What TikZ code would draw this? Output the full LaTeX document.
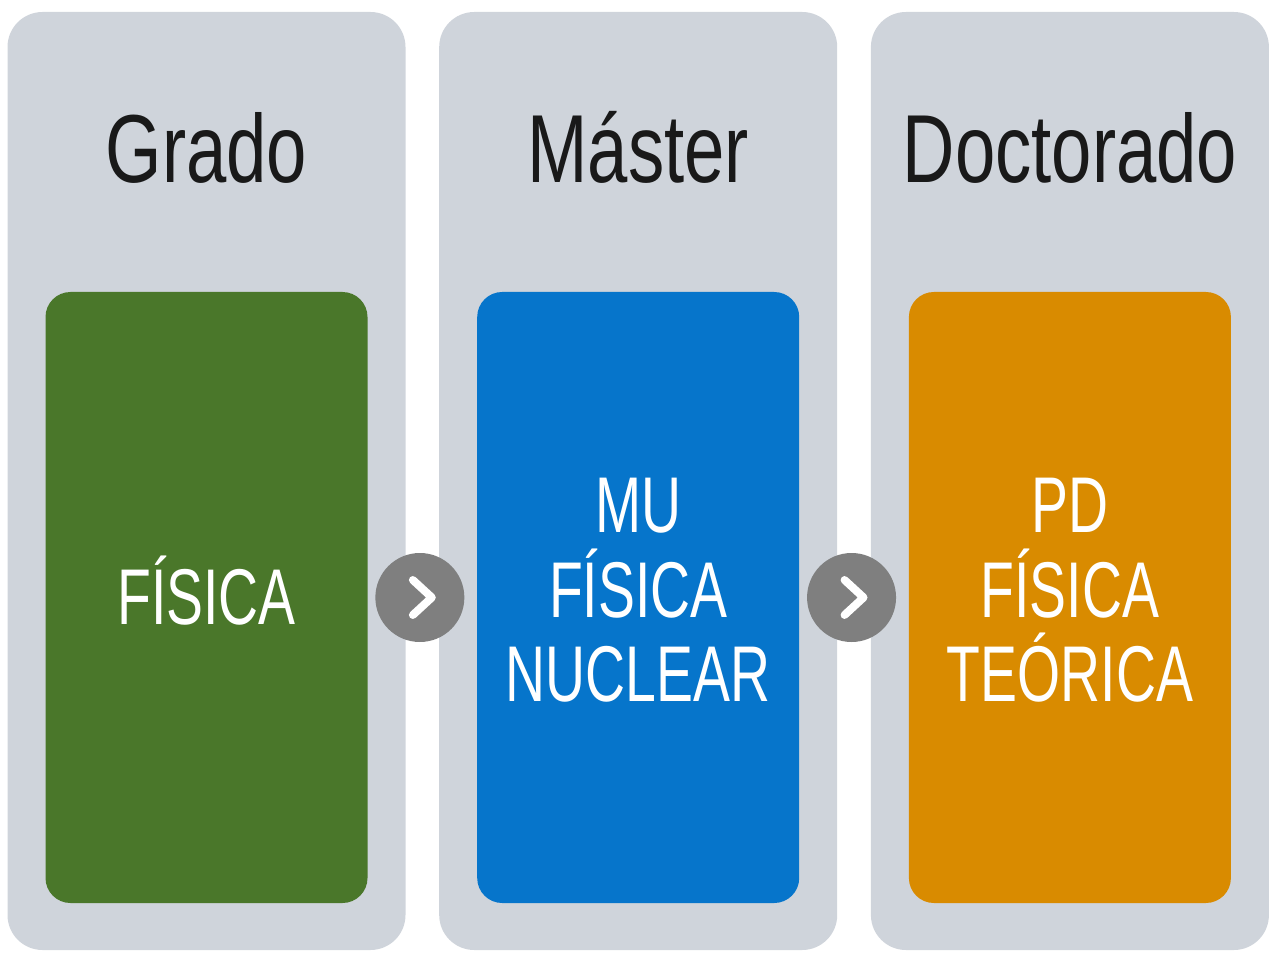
\documentclass[tikz,border=0pt]{standalone}
\usepackage{fontspec}
\setmainfont{Liberation Sans}[FakeStretch=0.7]
\newfontfamily\titlefont{Liberation Sans}[FakeStretch=0.75]
\usetikzlibrary{positioning,calc}

\definecolor{panelgray}{HTML}{CFD4DB}
\definecolor{gradogreen}{HTML}{4A772A}
\definecolor{masterblue}{HTML}{0675CB}
\definecolor{doctorange}{HTML}{D98B00}
\definecolor{stepgray}{HTML}{7F7F7F}

\begin{document}
\begin{tikzpicture}[panel/.style={rounded corners=0.7cm,fill=panelgray,minimum width=7.96cm,minimum height=18.76cm,inner sep=0pt},
    title/.style={anchor=base,font=\titlefont\fontsize{55}{60}\selectfont,text=black!90},
    card/.style={rounded corners=0.5cm,minimum width=6.44cm,minimum height=12.22cm,inner sep=0pt,align=center,text=white,font=\fontsize{45}{48}\selectfont},
    label/.style={align=center,text=white,font=\fontsize{45}{48}\selectfont},
    stepper/.style={circle,fill=stepgray,minimum size=1.78cm,inner sep=0pt},
    chev/.style={white,line width=4.5pt,line cap=round,line join=round}]

            \useasboundingbox (0,0) rectangle (25.6,-19.2);

            % panels
            \node[panel]  (1) at (4.13,-9.62) {};
            \node[panel]  (2) [right=0.66cm of 1] {};
            \node[panel]  (3) [right=0.66cm of 2] {};

            % titles
            \node[title]  (t1) at ([yshift=-3.42cm]1.north) {Grado};
            \node[title]  (t2) at ([yshift=-3.42cm]2.north) {Máster};
            \node[title]  (t3) at ([yshift=-3.42cm]3.north) {Doctorado};

            % coloured cards
            \node[card, fill=gradogreen]  (c1) [below=5.6cm of 1.north] {};
            \node[card, fill=masterblue]  (c2) [below=5.6cm of 2.north] {};
            \node[card, fill=doctorange]  (c3) [below=5.6cm of 3.north] {};

            \node[label]  (l1) at ([yshift=0.14cm]c1.center) {FÍSICA};
            \node[label]  (l2) at ([yshift=0.14cm]c2.center) {MU\\FÍSICA\\NUCLEAR};
            \node[label]  (l3) at ([yshift=0.14cm]c3.center) {PD\\FÍSICA\\TEÓRICA};

            % arrows between the steps
            \node[stepper]  (s1) at ($(1.east |- c1.center)!0.5!(2.west |- c2.center)+(-0.05,0)$) {};
            \node[stepper]  (s2) at ($(2.east |- c2.center)!0.5!(3.west |- c3.center)+(-0.05,0)$) {};

            \foreach \s in {s1,s2}
                \draw[chev] ([xshift=-0.14cm,yshift=0.35cm]\s.center) -- ([xshift=0.24cm]\s.center) -- ([xshift=-0.14cm,yshift=-0.35cm]\s.center);
        \end{tikzpicture}
\end{document}
